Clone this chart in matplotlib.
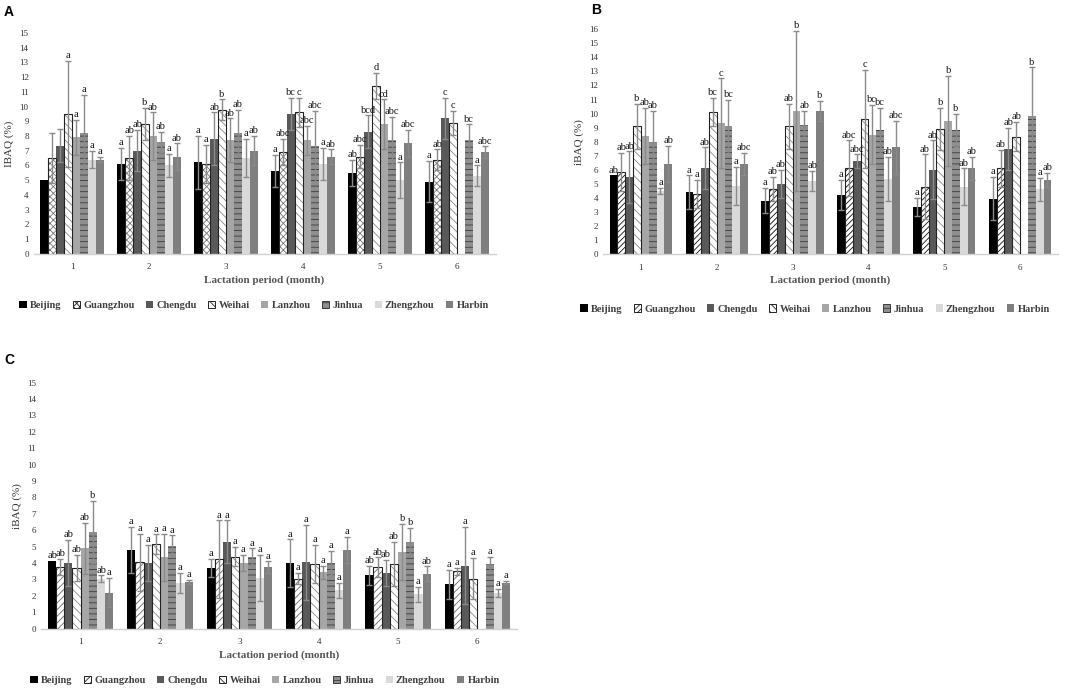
import matplotlib.pyplot as plt
import matplotlib.patches as mpatches
import numpy as np

plt.rcParams['font.family'] = ['Liberation Serif', 'DejaVu Serif']
plt.rcParams['hatch.linewidth'] = 0.6

months = ['1', '2', '3', '4', '5', '6']
regions = ['Beijing', 'Guangzhou', 'Chengdu', 'Weihai', 'Lanzhou', 'Jinhua', 'Zhengzhou', 'Harbin']
nan = np.nan

# panel A: bar heights and error-bar tops, one row per region
means_a = [[5.0, 6.1, 6.2, 5.6, 5.5, 4.9],
           [6.5, 6.5, 6.1, 6.9, 6.6, 6.4],
           [7.35, 7.0, 7.8, 9.5, 8.3, 9.2],
           [9.5, 8.8, 9.8, 9.6, 11.4, 8.9],
           [7.9, 8.0, 7.7, 7.7, 8.8, nan],
           [8.2, 7.6, 8.2, 7.3, 7.7, 7.7],
           [6.4, 6.0, 6.5, 6.1, 5.0, 5.3],
           [6.4, 6.6, 7.0, 6.6, 7.5, 6.9]]
tops_a = [[nan, 7.2, 8.0, 6.7, 6.4, 6.3],
          [8.2, 8.0, 7.4, 7.8, 7.4, 7.1],
          [8.5, 8.4, 9.6, 10.6, 9.4, 10.6],
          [13.1, 9.9, 10.5, 10.6, 12.3, 9.7],
          [9.1, 9.6, 9.2, 8.7, 10.5, nan],
          [10.8, 8.3, 9.8, 9.7, 9.3, 8.8],
          [7.0, 6.8, 7.8, 7.2, 6.2, 6.0],
          [6.6, 7.5, 8.0, 7.1, 8.4, 7.3]]
letters_a = [['', 'a', 'a', 'a', 'ab', 'a'],
             ['', 'ab', 'a', 'abc', 'abc', 'ab'],
             ['', 'ab', 'ab', 'bc', 'bcd', 'c'],
             ['a', 'b', 'b', 'c', 'd', 'c'],
             ['a', 'ab', 'ab', 'abc', 'cd', ''],
             ['a', 'ab', 'ab', 'abc', 'abc', 'bc'],
             ['a', 'a', 'a', 'a', 'a', 'a'],
             ['a', 'ab', 'ab', 'ab', 'abc', 'abc']]

# panel B
means_b = [[5.6, 4.4, 3.8, 4.2, 3.35, 3.95],
           [5.85, 4.3, 4.65, 6.1, 4.8, 6.1],
           [5.45, 6.1, 5.0, 6.6, 6.0, 7.5],
           [9.1, 10.1, 9.1, 9.6, 8.9, 8.35],
           [8.4, 9.3, 10.2, 8.5, 9.5, nan],
           [8.0, 9.1, 9.2, 8.8, 8.8, 9.8],
           [4.5, 4.85, 5.2, 5.35, 4.8, 4.6],
           [6.4, 6.4, 10.2, 7.6, 6.1, 5.3]]
tops_b = [[nan, 5.6, 4.7, 5.3, 4.0, 5.5],
          [7.2, 5.3, 5.5, 8.1, 7.1, 7.4],
          [7.3, 7.6, 6.0, 7.1, 8.1, 9.0],
          [10.7, 11.1, 10.7, 13.1, 10.4, 9.4],
          [10.4, 12.5, 15.9, 10.6, 12.7, nan],
          [10.2, 11.0, 10.2, 10.4, 10.0, 13.3],
          [4.7, 6.2, 5.9, 6.9, 6.1, 5.4],
          [7.7, 7.2, 10.9, 9.5, 6.9, 5.8]]
letters_b = [['ab', 'a', 'a', 'a', 'a', 'a'],
             ['ab', 'a', 'ab', 'abc', 'ab', 'ab'],
             ['ab', 'ab', 'ab', 'abc', 'ab', 'ab'],
             ['b', 'bc', 'ab', 'c', 'b', 'ab'],
             ['ab', 'c', 'b', 'bc', 'b', ''],
             ['ab', 'bc', 'ab', 'bc', 'b', 'b'],
             ['a', 'a', 'ab', 'ab', 'ab', 'a'],
             ['ab', 'abc', 'b', 'abc', 'ab', 'ab']]

# panel C
means_c = [[4.15, 4.8, 3.7, 4.0, 3.25, 2.7],
           [3.75, 4.05, 4.25, 3.05, 3.75, 3.5],
           [4.0, 4.0, 5.3, 4.05, 3.4, 3.85],
           [3.7, 5.15, 4.4, 3.95, 3.95, 3.05],
           [4.9, 4.35, 4.0, 3.45, 4.7, nan],
           [5.9, 5.05, 4.35, 4.0, 5.3, 3.95],
           [3.05, 2.8, 3.1, 2.35, 2.1, 2.2],
           [2.2, 2.85, 3.75, 4.8, 3.35, 2.8]]
tops_c = [[nan, 6.2, 4.25, 5.45, 3.85, 3.6],
          [4.25, 5.8, 6.6, 3.4, 4.35, 3.7],
          [5.4, 5.1, 6.6, 6.35, 4.2, 6.2],
          [4.5, 5.75, 5.0, 5.1, 5.3, 4.3],
          [6.45, 5.8, 4.5, 3.85, 6.4, nan],
          [7.8, 5.7, 4.9, 4.75, 6.15, 4.4],
          [3.25, 3.4, 4.5, 2.8, 2.55, 2.45],
          [3.1, 3.0, 4.1, 5.6, 3.8, 2.9]]
letters_c = [['ab', 'a', 'a', 'a', 'ab', 'a'],
             ['ab', 'a', 'a', 'a', 'ab', 'a'],
             ['ab', 'a', 'a', 'a', 'ab', 'a'],
             ['ab', 'a', 'a', 'a', 'ab', 'a'],
             ['ab', 'a', 'a', 'a', 'b', ''],
             ['b', 'a', 'a', 'a', 'b', 'a'],
             ['ab', 'a', 'a', 'a', 'a', 'a'],
             ['a', 'a', 'a', 'a', 'ab', 'a']]

# fill colour, hatch, hatch colour, outline colour
styles = [('#000000', '', None, None),
          ('#ffffff', 'xxxxx', '#777777', '#222222'),
          ('#595959', '', None, None),
          ('#ffffff', '\\\\\\\\', '#888888', '#222222'),
          ('#a6a6a6', '', None, None),
          ('#8f8f8f', '---', '#3a3a3a', None),
          ('#d9d9d9', '', None, None),
          ('#7f7f7f', '', None, None)]
gz_hatch = {'A': ('xxxxx', '#777777'), 'B': ('//////', '#111111'), 'C': ('/////', '#666666')}

txt = '#333333'
W = 1084
H = 692


def draw_panel(ax, key, means, tops, letters, ymax, ylabel):
    x = np.arange(1, 7)
    w = 0.103
    for k, name in enumerate(regions):
        fc, hatch, hcol, ecol = styles[k]
        if k == 1:
            hatch, hcol = gz_hatch[key]
        pos = x + (k - 3.5) * w
        m = np.array(means[k], dtype=float)
        t = np.array(tops[k], dtype=float)
        if hatch:
            ax.bar(pos, m, w, color=fc, hatch=hatch, edgecolor=hcol, linewidth=0, zorder=2)
        else:
            ax.bar(pos, m, w, color=fc, linewidth=0, zorder=2)
        if ecol:
            ax.bar(pos, m, w, facecolor='none', edgecolor=ecol, linewidth=0.8, zorder=3)
        err = t - m
        ax.errorbar(pos, m, yerr=err, fmt='none', ecolor='#8a8a8a', elinewidth=1,
                    capsize=2.2, capthick=1, zorder=4)
        for j in range(6):
            if not letters[k][j]:
                continue
            y = t[j] if not np.isnan(t[j]) else m[j]
            ax.annotate(letters[k][j], (pos[j], y), xytext=(0, 0.5), textcoords='offset points',
                        ha='center', va='bottom', fontsize=7.5, color='#111111', zorder=5)
    ax.set_xlim(0.5, 6.5)
    ax.set_ylim(0, ymax)
    ax.set_yticks(range(0, ymax + 1))
    ax.set_xticks(x)
    ax.set_xticklabels(months)
    ax.tick_params(length=0, labelsize=6.5, colors=txt)
    ax.tick_params(axis='x', pad=7)
    for s in ['top', 'right', 'left']:
        ax.spines[s].set_visible(False)
    ax.spines['bottom'].set_color('#d0d0d0')
    ax.spines['bottom'].set_linewidth(1)
    ax.set_xlabel('Lactation period (month)', fontsize=8, fontweight='bold', color='#555555', labelpad=3)
    ax.set_ylabel(ylabel, fontsize=8, color=txt, labelpad=4)


def legend_handles(key):
    hs = []
    for k, name in enumerate(regions):
        fc, hatch, hcol, ecol = styles[k]
        if k == 1:
            hatch, hcol = gz_hatch[key]
        if hatch:
            p = mpatches.Patch(facecolor=fc, hatch=hatch, edgecolor=ecol or hcol, linewidth=0.7, label=name)
        else:
            p = mpatches.Patch(facecolor=fc, linewidth=0, label=name)
        hs.append(p)
    return hs


fig = plt.figure(figsize=(10.84, 6.92), dpi=100)

ax_a = fig.add_axes([33.5 / W, 1 - 253.7 / H, 462 / W, 220.7 / H])
ax_b = fig.add_axes([603 / W, 1 - 254 / H, 455 / W, 224.7 / H])
ax_c = fig.add_axes([41 / W, 1 - 628.7 / H, 476 / W, 246 / H])

draw_panel(ax_a, 'A', means_a, tops_a, letters_a, 15, 'IBAQ (%)')
draw_panel(ax_b, 'B', means_b, tops_b, letters_b, 16, 'iBAQ (%)')
draw_panel(ax_c, 'C', means_c, tops_c, letters_c, 15, 'iBAQ (%)')

for ax, key, cx, cy in [(ax_a, 'A', 254, 305.7), (ax_b, 'B', 815, 309), (ax_c, 'C', 265, 680.5)]:
    leg = ax.legend(handles=legend_handles(key), loc='center', bbox_to_anchor=(cx / W, 1 - cy / H),
                    bbox_transform=fig.transFigure, ncol=8, frameon=False, fontsize=7.5,
                    handlelength=0.7, handleheight=0.7, handletextpad=0.3, columnspacing=1.1,
                    borderaxespad=0)
    for t in leg.get_texts():
        t.set_fontweight('bold')
        t.set_color('#404040')

for lab, px, py in [('A', 9, 11.5), ('B', 596, 10), ('C', 9, 360)]:
    fig.text(px / W, 1 - py / H, lab, fontsize=10, fontweight='bold', family='Liberation Sans',
             ha='center', va='center', color='#000000')

fig.savefig('out.png', dpi=100)
